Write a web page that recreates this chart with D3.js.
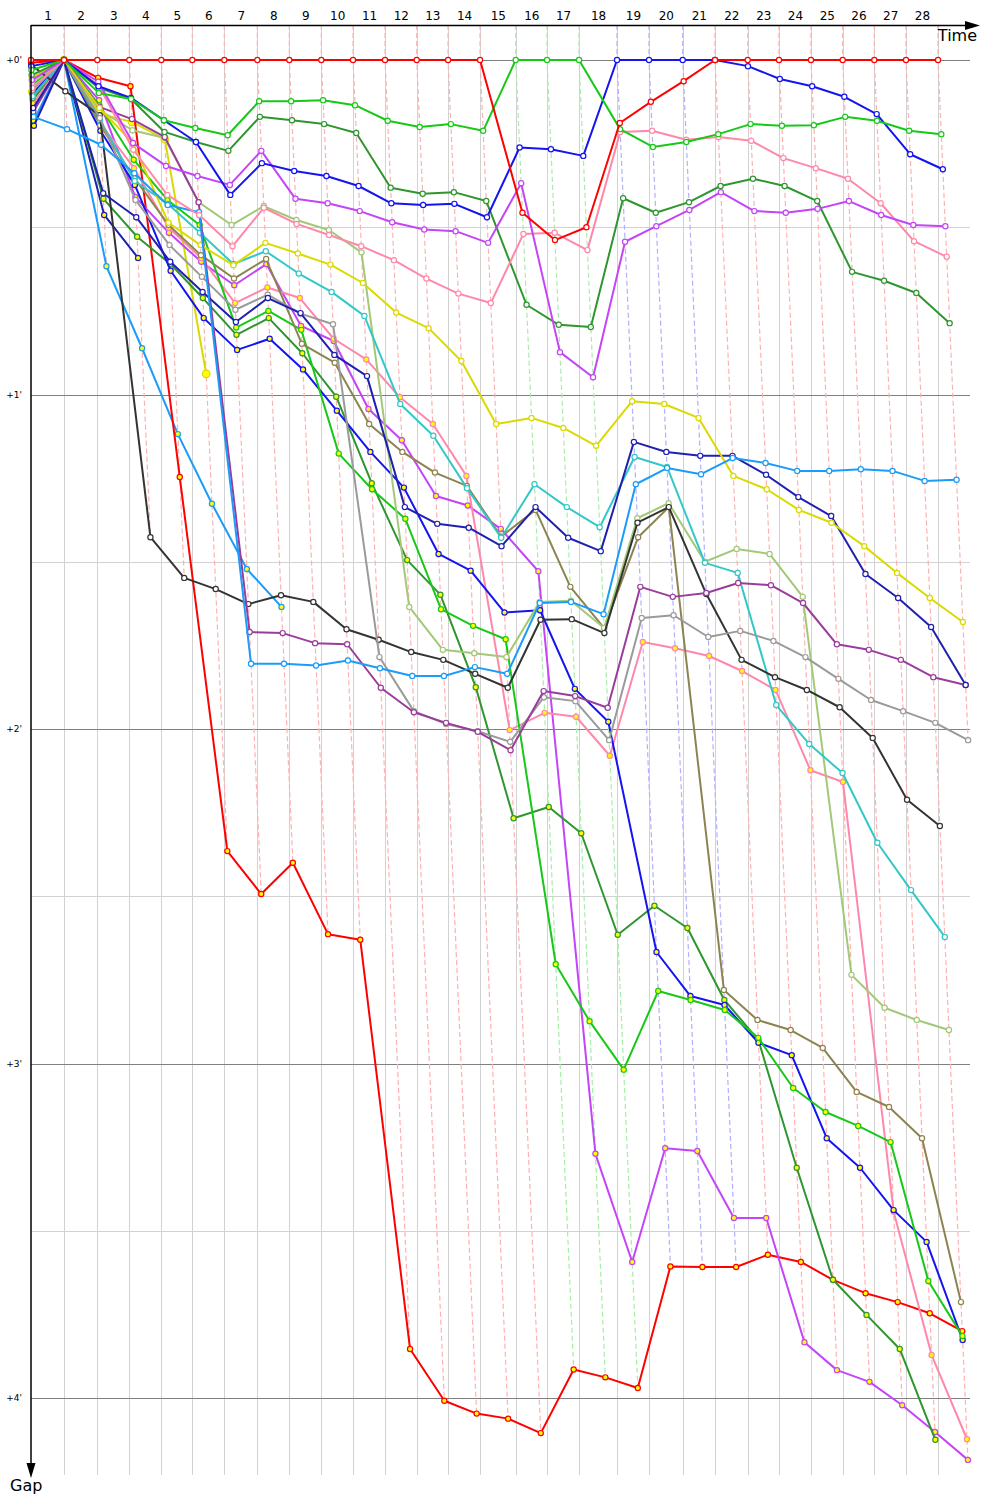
<!DOCTYPE html>
<html>
<head>
<meta charset="utf-8">
<script src="https://cdn.jsdelivr.net/npm/d3@7"></script>
<style>
  body { margin: 0; background: #fff; }
  svg text { font-family: "DejaVu Sans", Verdana, sans-serif; }
</style>
</head>
<body>
<script>
// leader's lap times in seconds, laps 1..28
var lapTimes = [133.8, 135.0, 129.7, 129.7, 125.7, 129.7, 133.8, 129.7, 129.7, 128.5,
                129.7, 128.5, 126.9, 129.7, 144.7, 126.9, 129.7, 154.0, 129.7, 136.6,
                130.9, 132.5, 126.9, 129.7, 128.5, 128.1, 128.5, 129.7];
// team leading each lap (colours the dashed lap lines)
var lapLeader = ["red","red","red","red","red","red","red","red","red","red","red","red","red","red",
                 "green","green","green","blue","blue","blue",
                 "red","red","red","red","red","red","red","red"];
var lapLabels = d3.range(1, 29);
var yTicks = [0, 60, 120, 180, 240];
var yMinor = [30, 90, 150, 210];

// gaps to the leader in seconds, lap 0 (start) .. 28, null = no lap
var redW     = [0,0,0,0,0,0,0,0,0,0,0,0,0,0,0,27.4,32.3,30.0,11.3,7.5,3.8,0,0,0,0,0,0,0,0];
var redY     = [0.5,0,3.2,4.7,74.8,141.9,149.6,144.0,156.8,157.8,231.2,240.5,242.8,243.7,246.3,234.9,236.3,238.2,216.4,216.5,216.5,214.3,215.6,218.8,221.2,222.8,224.8,228.0,null];
var greenW   = [1.8,0,5.9,7.0,10.8,12.2,13.5,7.4,7.4,7.2,8.1,10.9,12.0,11.5,12.7,0,0,0,12.4,15.6,14.7,13.3,11.5,11.8,11.7,10.2,10.9,12.7,13.3];
var greenY   = [4.5,0,8.1,17.9,25.1,29.6,48.0,45.0,48.4,70.6,77.0,82.3,98.5,101.5,103.9,162.2,172.4,181.1,167.0,168.6,170.4,175.4,184.4,188.7,191.2,194.1,219.0,228.9,null];
var dgreenW  = [2.7,0,5.0,7.0,12.9,14.7,16.3,10.2,10.8,11.5,13.1,22.9,24.0,23.7,25.3,43.9,47.5,47.9,24.8,27.4,25.5,22.6,21.3,22.6,25.3,38.0,39.6,41.8,47.2];
var dgreenY  = [7.2,0,24.9,31.7,36.6,42.7,49.3,46.3,52.6,60.4,75.9,89.7,95.9,112.5,136.0,134.0,138.7,156.9,151.7,155.7,168.6,175.8,198.7,218.8,225.1,231.2,247.5,null,null];
var blueW    = [1.1,0,4.7,6.8,10.8,14.7,24.2,18.5,19.9,20.8,22.6,25.7,26.0,25.8,28.2,15.7,16.0,17.2,0,0,0,0,1.1,3.4,4.7,6.6,9.7,16.9,19.6];
var blueY    = [6.1,0,12.7,22.4,37.8,46.3,52.0,50.0,55.5,62.9,70.3,76.7,88.6,91.6,99.1,98.7,112.8,118.7,160.0,167.9,169.5,176.3,178.5,193.4,198.7,206.3,212.0,229.6,null];
var magentaW = [3.6,0,3.9,14.9,19.0,20.8,22.4,16.3,24.9,25.7,27.1,29.1,30.4,30.7,32.8,22.1,52.4,56.9,32.6,29.8,26.9,23.7,27.1,27.4,26.7,25.3,27.8,29.6,29.8];
var magentaY = [9.0,0,7.2,24.6,31.0,36.2,40.4,36.6,47.7,50.4,62.6,68.2,78.2,79.9,84.1,91.7,196.2,215.6,195.2,195.7,207.7,207.7,230.0,235.0,237.1,241.3,246.1,251.1,null];
var pinkW    = [5.0,0,4.5,16.1,24.2,27.8,33.4,26.5,29.4,31.4,33.4,35.9,39.2,41.9,43.6,31.2,31.0,34.1,12.9,12.7,14.3,13.8,14.5,17.6,19.4,21.3,25.7,32.5,35.3];
var pinkY    = [7.9,0,11.3,19.4,30.1,35.5,43.6,40.8,42.7,50.0,53.7,60.5,65.3,74.6,120.2,117.1,117.8,124.8,104.4,105.5,106.9,109.6,113.0,127.4,129.5,206.6,232.3,247.4,null];
var yellowW  = [3.2,0,8.6,14.9,29.2,33.2,36.8,32.8,34.7,36.7,40.0,45.3,48.1,54.0,65.3,64.2,66.0,69.2,61.2,61.7,64.2,74.6,77.0,80.7,83.0,87.2,92.0,96.5,100.8];
var yellowY  = [5.7,0,9.7,11.1,14.2,56.3];
var ltblueW  = [10.2,12.4,15.2,20.3,26.0,27.3,108.3,108.3,108.6,107.7,109.1,110.5,110.5,108.9,110.1,97.4,97.2,99.4,76.1,73.2,74.3,71.4,72.3,73.7,73.7,73.4,73.7,75.5,75.3];
var ltblueY  = [10.9,0,37.0,51.7,67.1,79.6,91.3,98.1];
var navyW    = [8.6,0,23.9,28.2,36.2,41.6,47.0,42.7,45.4,52.9,56.7,80.2,83.2,83.9,87.2,80.2,85.7,88.1,68.5,70.3,71.0,71.0,74.4,78.4,81.8,92.2,96.5,101.7,112.1];
var navyY    = [11.8,0,27.8,35.5];
var cyanW    = [6.5,0,10.8,21.7,25.8,31.0,36.6,34.3,38.3,41.6,45.9,61.7,67.4,76.8,85.7,76.1,80.2,83.8,71.2,73.0,90.2,92.0,115.7,122.7,127.9,140.4,148.9,157.3,null];
var ltgreenW = [4.1,0,9.0,12.6,14.0,25.5,29.6,26.2,28.7,30.5,34.5,98.1,105.8,106.4,107.1,97.2,97.0,101.9,82.2,79.5,90.0,87.7,88.6,96.3,164.1,170.0,172.2,174.0,null];
var grayW    = [5.4,0,10.4,25.1,33.2,38.9,44.8,42.1,45.5,47.4,107.1,116.8,119.1,120.4,122.3,114.3,115.0,122.0,100.1,99.6,103.5,102.4,104.2,107.1,111.0,114.8,116.8,118.9,122.0];
var blackW   = [0.9,5.6,9.9,85.6,92.9,94.9,97.6,96.0,97.2,102.1,104.0,106.2,107.6,110.1,112.6,100.4,100.3,102.8,83.0,80.2,95.8,107.6,110.7,113.0,116.1,121.6,132.7,137.4,null];
var oliveW   = [6.8,0,11.7,21.2,29.6,35.0,39.2,35.7,50.9,54.3,65.3,70.3,74.0,76.4,85.5,80.7,94.5,101.9,85.6,80.2,166.8,172.2,174.0,177.2,185.1,187.8,193.4,222.8,null];
var purpleW  = [9.3,0,8.4,10.6,13.8,25.5,102.6,102.8,104.6,104.8,112.6,117.0,118.9,120.5,123.8,113.2,114.1,116.2,94.5,96.3,95.6,93.8,94.2,97.4,104.8,105.8,107.6,110.7,112.1];

var teamColor = {
  red: "#ff0000", green: "#17c817", dgreen: "#2f962f", blue: "#1414f0",
  magenta: "#c444f8", pink: "#ff88aa", yellow: "#dada00", ltblue: "#1a9cf8",
  navy: "#2020b0", cyan: "#33c8c8", ltgreen: "#a2c878", gray: "#9a9a9a",
  black: "#333333", olive: "#8c8450", purple: "#993c9c"
};
var lapLineColor = { red: "#ffb0b0", green: "#a8eca8", blue: "#b0b0ff" };

// back markers first, leaders drawn on top
var drivers = [
  {team: "ltblue", second: true, gaps: ltblueY},
  {team: "navy", second: true, gaps: navyY},
  {team: "yellow", second: true, gaps: yellowY},
  {team: "red", second: true, gaps: redY},
  {team: "magenta", second: true, gaps: magentaY},
  {team: "dgreen", second: true, gaps: dgreenY},
  {team: "pink", second: true, gaps: pinkY},
  {team: "blue", second: true, gaps: blueY},
  {team: "green", second: true, gaps: greenY},
  {team: "olive", second: false, gaps: oliveW},
  {team: "ltgreen", second: false, gaps: ltgreenW},
  {team: "cyan", second: false, gaps: cyanW},
  {team: "black", second: false, gaps: blackW},
  {team: "gray", second: false, gaps: grayW},
  {team: "purple", second: false, gaps: purpleW},
  {team: "navy", second: false, gaps: navyW},
  {team: "yellow", second: false, gaps: yellowW},
  {team: "ltblue", second: false, gaps: ltblueW},
  {team: "dgreen", second: false, gaps: dgreenW},
  {team: "pink", second: false, gaps: pinkW},
  {team: "magenta", second: false, gaps: magentaW},
  {team: "blue", second: false, gaps: blueW},
  {team: "green", second: false, gaps: greenW},
  {team: "red", second: false, gaps: redW}
];

var svg = d3.select("body").append("svg")
  .attr("width", 1000)
  .attr("height", 1500);

// cumulative leader time at the end of each lap
var cum = [0];
lapTimes.forEach(function(t, i){ cum.push(cum[i] + t); });

var x = d3.scaleLinear().domain([0, cum[cum.length - 1]]).range([31, 938]);
var y = d3.scaleLinear().domain([0, 240]).range([60, 1398]);
function crisp(v){ return Math.round(v) + 0.5; }

// grid
var grid = svg.append("g");
grid.selectAll(".vgrid").data(cum.slice(1)).enter().append("line")
  .attr("x1", function(d){ return crisp(x(d)); })
  .attr("x2", function(d){ return crisp(x(d)); })
  .attr("y1", 25).attr("y2", 1475)
  .attr("stroke", "#d2d2d2");
grid.selectAll(".hminor").data(yMinor).enter().append("line")
  .attr("x1", 31).attr("x2", 970)
  .attr("y1", function(d){ return crisp(y(d)); })
  .attr("y2", function(d){ return crisp(y(d)); })
  .attr("stroke", "#d2d2d2");
grid.selectAll(".hmajor").data(yTicks).enter().append("line")
  .attr("x1", 31).attr("x2", 970)
  .attr("y1", function(d){ return crisp(y(d)); })
  .attr("y2", function(d){ return crisp(y(d)); })
  .attr("stroke", "#808080");

// dashed lap lines, through every car's point for that lap
var line = d3.line();
var lapG = svg.append("g");
for (var k = 1; k <= 28; k++) {
  var pts = [];
  drivers.forEach(function(dr){
    var g = dr.gaps[k];
    if (g != null) pts.push(g);
  });
  pts.sort(function(a, b){ return a - b; });
  var path = [[x(cum[k]), 25]].concat(pts.map(function(g){ return [x(cum[k] + g), y(g)]; }));
  lapG.append("path")
    .attr("d", line(path))
    .attr("fill", "none")
    .attr("stroke", lapLineColor[lapLeader[k - 1]])
    .attr("stroke-width", 1.2)
    .attr("stroke-dasharray", "5,3");
}

// drivers
drivers.forEach(function(dr){
  var pts = [];
  dr.gaps.forEach(function(g, lap){
    if (g != null) pts.push([x(cum[lap] + g), y(g)]);
  });
  var col = teamColor[dr.team];
  var grp = svg.append("g");
  grp.append("path")
    .attr("d", line(pts))
    .attr("fill", "none")
    .attr("stroke", col)
    .attr("stroke-width", 2)
    .attr("stroke-linejoin", "round");
  grp.selectAll("circle").data(pts).enter().append("circle")
    .attr("cx", function(d){ return d[0]; })
    .attr("cy", function(d){ return d[1]; })
    .attr("r", dr.team === "yellow" && dr.second ? 3.8 : 2.6)
    .attr("fill", dr.second ? "#ffff00" : "#ffffff")
    .attr("stroke", col)
    .attr("stroke-width", 1.2);
});

// axes
var mids = lapLabels.map(function(k){ return (cum[k - 1] + cum[k]) / 2; });
svg.append("g")
  .attr("transform", "translate(0,25)")
  .call(d3.axisTop(x).tickValues(mids)
    .tickFormat(function(d, i){ return lapLabels[i]; })
    .tickSize(0).tickPadding(5))
  .call(function(g){ g.select(".domain").remove(); })
  .selectAll("text")
    .attr("font-family", "DejaVu Sans, Verdana, sans-serif")
    .style("font-size", "12px")
    .attr("fill", "#000");

svg.append("g")
  .attr("transform", "translate(31,0)")
  .call(d3.axisLeft(y).tickValues(yTicks)
    .tickFormat(function(d){ return "+" + (d / 60) + "'"; })
    .tickSize(0).tickPadding(9))
  .call(function(g){ g.select(".domain").remove(); })
  .selectAll("text")
    .attr("font-family", "DejaVu Sans, Verdana, sans-serif")
    .style("font-size", "9px")
    .attr("fill", "#000");

svg.append("line")
  .attr("x1", 31).attr("x2", 970).attr("y1", 25.5).attr("y2", 25.5)
  .attr("stroke", "#000").attr("stroke-width", 1.5);
svg.append("path")
  .attr("d", "M980,25.5 L965,21 L965,30 Z")
  .attr("fill", "#000");
svg.append("line")
  .attr("x1", 31).attr("x2", 31).attr("y1", 25).attr("y2", 1468)
  .attr("stroke", "#000").attr("stroke-width", 1.5);
svg.append("path")
  .attr("d", "M31,1478 L26.5,1463 L35.5,1463 Z")
  .attr("fill", "#000");

svg.append("text")
  .attr("x", 977).attr("y", 41)
  .attr("text-anchor", "end")
  .style("font-size", "16px")
  .text("Time");
svg.append("text")
  .attr("x", 10).attr("y", 1491)
  .style("font-size", "16px")
  .text("Gap");
</script>
</body>
</html>
